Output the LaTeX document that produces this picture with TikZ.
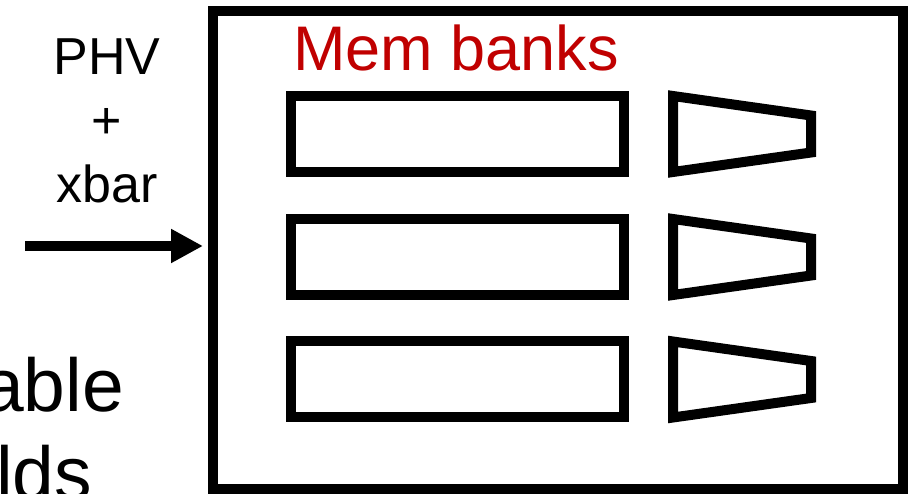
\documentclass[tikz,border=0pt]{standalone}
\usepackage{fontspec}
\setmainfont{Liberation Sans}
\usetikzlibrary{arrows.meta}
\definecolor{bankred}{RGB}{192,0,0}
\begin{document}
\begin{tikzpicture}[x=1pt,y=-1pt,line width=10pt,>={Triangle[length=32pt,width=32pt]},
	bank/.style={draw,minimum width=333pt,minimum height=76pt,inner sep=0pt},
	lbl/.style={inner sep=0pt,anchor=base}]
	%%Khung hinh
	\useasboundingbox (0,0) rectangle (919,494);
	\node[draw,minimum width=690pt,minimum height=478pt,inner sep=0pt] (sram) at (558,250) {};
	%%Chu ben trai
	\node[lbl,font=\fontsize{52}{64}\selectfont] (phv) at (107,75) {PHV};
	\node[lbl,font=\fontsize{52}{64}\selectfont] (plus) at (107,139) {+};
	\node[lbl,font=\fontsize{52}{64}\selectfont] (xbar) at (107,203) {xbar};
	\node[lbl,anchor=base east,font=\fontsize{75}{87}\selectfont] (able) at (129,412) {able};
	\node[lbl,anchor=base east,font=\fontsize{75}{87}\selectfont] (lds) at (97,499) {lds};
	\coordinate (in) at (25,246);
	\draw[->,shorten >=5pt] (in) -- (in -| sram.west);
	%%Cac bank
	\node[lbl,anchor=base west,text=bankred,font=\fontsize{63}{76}\selectfont] (title) at (288,71) {Mem banks};
	\foreach \i/\y in {1/134,2/257,3/379.5}{
		\node[bank] (bank\i) at (457.5,\y) {};
		\draw (673,\y-38) -- (811,\y-18.5) -- (811,\y+18.5) -- (673,\y+38) -- cycle;
	}
\end{tikzpicture}
\end{document}
